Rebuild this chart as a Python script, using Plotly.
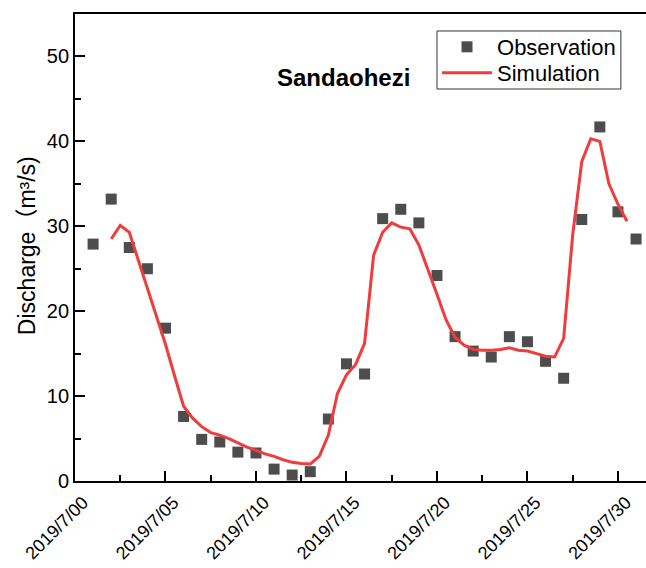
import plotly.graph_objects as go

# Observation (daily)
obs_day = list(range(1, 32))
obs_val = [27.9, 33.2, 27.5, 25.0, 18.0, 7.6, 4.9, 4.6, 3.4, 3.3,
           1.4, 0.7, 1.1, 7.3, 13.8, 12.6, 30.9, 32.0, 30.4, 24.2,
           17.0, 15.3, 14.6, 17.0, 16.4, 14.1, 12.1, 30.8, 41.7, 31.7, 28.5]

# Simulation (half-day steps)
sim_day = [2.0 + 0.5 * i for i in range(58)]
sim_val = [28.5, 30.1, 29.3, 26.0, 22.8, 19.4, 16.1, 12.4, 8.8, 7.4,
           6.4, 5.7, 5.4, 5.0, 4.5, 4.0, 3.6, 3.2, 2.9, 2.5,
           2.2, 2.05, 2.0, 2.9, 5.4, 10.3, 12.5, 13.7, 16.2, 26.6,
           29.3, 30.4, 29.9, 29.7, 27.8, 25.0, 22.0, 19.0, 16.9, 16.0,
           15.5, 15.4, 15.4, 15.5, 15.7, 15.4, 15.3, 15.0, 14.7, 14.6,
           16.8, 29.0, 37.6, 40.3, 40.0, 35.0, 32.6, 30.6]

tick_vals = [0, 5, 10, 15, 20, 25, 30]
tick_text = ["2019/7/00", "2019/7/05", "2019/7/10", "2019/7/15",
             "2019/7/20", "2019/7/25", "2019/7/30"]

FONT = "Liberation Sans, Arial, Noto Sans CJK SC, sans-serif"

fig = go.Figure()
fig.add_trace(go.Scatter(
    x=obs_day, y=obs_val, mode="markers", name="Observation", legend="legend",
    marker=dict(symbol="square", size=11, color="#4d4d4d", line=dict(width=0)),
))
fig.add_trace(go.Scatter(
    x=sim_day, y=sim_val, mode="lines", name="Simulation", legend="legend2",
    line=dict(color="#f03c3c", width=3),
))

fig.add_annotation(
    text="<b>Sandaohezi</b>", x=14.83, y=47.5, xref="x", yref="y",
    showarrow=False, font=dict(family=FONT, size=24, color="black"),
    xanchor="center", yanchor="middle",
)
fig.add_annotation(
    text="Discharge（m³/s)", x=-0.084, y=0.503, xref="paper", yref="paper",
    textangle=-90, showarrow=False, font=dict(family=FONT, size=23, color="black"),
    xanchor="center", yanchor="middle",
)

# legend frame
fig.add_shape(type="rect", xref="paper", yref="paper",
              x0=0.634, x1=0.956, y0=0.8394, y1=0.9636,
              line=dict(color="#333333", width=1), fillcolor="rgba(0,0,0,0)")

leg_common = dict(
    xanchor="left", yanchor="middle", borderwidth=0, bgcolor="rgba(0,0,0,0)",
    font=dict(family=FONT, size=22, color="black"), itemwidth=50,
)

fig.update_layout(
    width=646, height=568,
    margin=dict(l=75, r=0, t=14, b=87, autoexpand=False),
    plot_bgcolor="white", paper_bgcolor="white",
    font=dict(family=FONT, color="black"),
    showlegend=True,
    legend=dict(x=0.634, y=0.9293, **leg_common),
    legend2=dict(x=0.634, y=0.8737, **leg_common),
    xaxis=dict(
        range=[0, 31.55], tickmode="array", tickvals=tick_vals, ticktext=tick_text,
        tickangle=-45, ticks="inside", ticklen=10, tickwidth=1.5, tickcolor="black",
        showline=True, linecolor="black", linewidth=1.8, mirror=True,
        showgrid=False, zeroline=False, ticklabelstandoff=2, ticklabelshift=8,
        automargin=False,
        tickfont=dict(family=FONT, size=18, color="black"),
        minor=dict(ticks="inside", ticklen=6, tickwidth=1.5, tickcolor="black",
                   tickmode="linear", tick0=0, dtick=2.5, showgrid=False),
    ),
    yaxis=dict(
        range=[0, 55], tickmode="linear", tick0=0, dtick=10,
        ticks="inside", ticklen=10, tickwidth=1.5, tickcolor="black",
        showline=True, linecolor="black", linewidth=1.8, mirror=False,
        showgrid=False, zeroline=False, automargin=False,
        tickfont=dict(family=FONT, size=20, color="black"),
        minor=dict(ticks="inside", ticklen=6, tickwidth=1.5, tickcolor="black",
                   tickmode="linear", tick0=0, dtick=5, showgrid=False),
    ),
)

fig.write_html("out.html")
